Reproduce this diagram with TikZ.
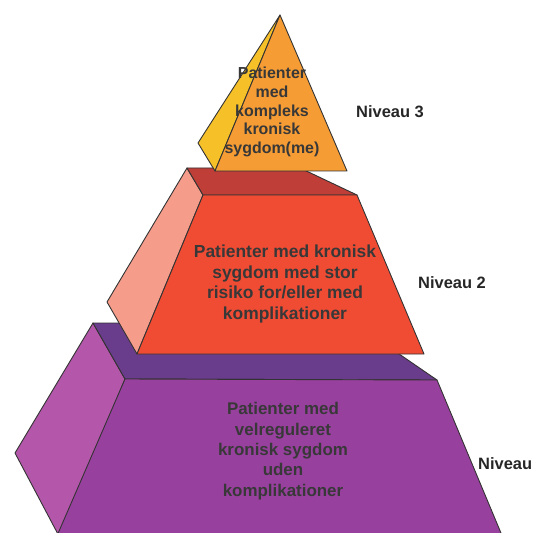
\documentclass[tikz,border=0pt]{standalone}
\usepackage{fontspec}
\setmainfont{Liberation Sans}
\begin{document}
\begin{tikzpicture}[x=1bp,y=-1bp,
  face/.style={draw=black!80, line width=0.9bp, line join=round},
  label/.style={text=black!78, font=\bfseries, align=center, inner sep=0pt},
  lvl/.style={text=black!85, font=\fontsize{16.5}{19}\selectfont\bfseries, inner sep=0pt}]
\definecolor{pTop}{RGB}{106,60,140}
\definecolor{pFront}{RGB}{152,64,158}
\definecolor{pSide}{RGB}{180,86,170}
\definecolor{rTop}{RGB}{192,62,56}
\definecolor{rFront}{RGB}{240,76,52}
\definecolor{rSide}{RGB}{245,156,138}
\definecolor{oFront}{RGB}{245,156,52}
\definecolor{oSide}{RGB}{246,192,40}
\useasboundingbox (0,0) rectangle (536,533);
\clip (0,0) rectangle (536,533);
% level 1 block
\fill[pSide, face] (93,323) -- (125,379) -- (60,538) -- (15,453) -- cycle;
\fill[pTop, face] (93,323) -- (354,323) -- (437,380) -- (125,379) -- cycle;
\fill[pFront, face] (125,379) -- (437,380) -- (506,545) -- (53,545) -- cycle;
% level 2 block
\fill[rSide, face] (187,168) -- (203,195) -- (137,354) -- (107,302) -- cycle;
\fill[rTop, face] (187,168) -- (300,168) -- (357,195) -- (203,195) -- cycle;
\fill[rFront, face] (203,195) -- (357,195) -- (424,354) -- (137,354) -- cycle;
% level 3 pyramid
\fill[oSide, face] (280,15) -- (198,143) -- (215,171) -- cycle;
\fill[oFront, face] (280,15) -- (215,171) -- (347,171) -- cycle;
% texts
\node[label, font=\fontsize{16}{18.7}\selectfont\bfseries] (t3) at (272,112)
  {Patienter\\med\\kompleks\\kronisk\\sygdom(me)};
\node[label, font=\fontsize{17.5}{20.7}\selectfont\bfseries] (t2) at (285,284)
  {Patienter med kronisk\\sygdom med stor\\risiko for/eller med\\komplikationer};
\node[label, font=\fontsize{17}{20.4}\selectfont\bfseries] (t1) at (283,451)
  {Patienter med\\velreguleret\\kronisk sygdom\\uden\\komplikationer};
\node[lvl, anchor=west] (n3) at (356,112) {Niveau 3};
\node[lvl, anchor=west] (n2) at (418,283) {Niveau 2};
\node[lvl, anchor=west] (n1) at (478,464) {Niveau 1};
\end{tikzpicture}
\end{document}
